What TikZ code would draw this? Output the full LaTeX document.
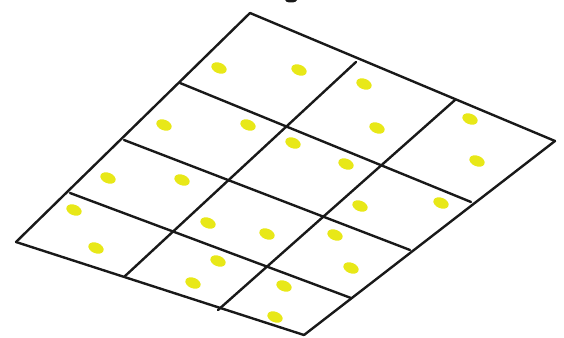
\documentclass[tikz,border=0pt]{standalone}
\usepackage{tikz}
\usetikzlibrary{shapes.geometric}
\definecolor{gridline}{RGB}{25,25,25}
\definecolor{dotyellow}{RGB}{232,232,24}

\begin{document}
\begin{tikzpicture}[x=1pt,y=-1pt,
    gridedge/.style={line width=2.4pt,draw=gridline,line cap=round,line join=round},
    spot/.style={ellipse,fill=dotyellow,draw=none,inner sep=0pt,
                 minimum width=16pt,minimum height=10.5pt,rotate=-22}]
    \useasboundingbox[fill=white](0,0)rectangle(564,337);
    % lattice corners, row by row
    \coordinate(p00)at(250,13);  \coordinate(p10)at(356,62);
    \coordinate(p20)at(455,100); \coordinate(p30)at(555,141);
    \coordinate(p01)at(180,83);  \coordinate(p31)at(471,202);
    \coordinate(p02)at(124,140); \coordinate(p32)at(410,250);
    \coordinate(p03)at(70,193);  \coordinate(p33)at(351,298);
    \coordinate(p04)at(16,242);  \coordinate(p14)at(124,277);
    \coordinate(p24)at(218,310); \coordinate(p34)at(304,335);
    % cut-off mark above the grid
    \fill[gridline](291,0)ellipse[x radius=6pt,y radius=2.5pt];
    % rows
    \foreach \j in {0,...,4}
        \draw[gridedge](p0\j)--(p3\j);
    % columns
    \foreach \i in {0,...,3}
        \draw[gridedge](p\i0)--(p\i4);
    % Row 1
    \node[spot](s11)at(219,68){};  \node[spot](s12)at(299,70){};
    \node[spot](s13)at(364,84){};  \node[spot](s14)at(377,128){};
    \node[spot](s15)at(470,119){}; \node[spot](s16)at(477,161){};
    % Row 2
    \node[spot](s21)at(164,125){}; \node[spot](s22)at(248,125){};
    \node[spot](s23)at(293,143){}; \node[spot](s24)at(346,164){};
    \node[spot](s25)at(360,206){}; \node[spot](s26)at(441,203){};
    % Row 3
    \node[spot](s31)at(108,178){}; \node[spot](s32)at(182,180){};
    \node[spot](s33)at(208,223){}; \node[spot](s34)at(267,234){};
    \node[spot](s35)at(335,235){}; \node[spot](s36)at(351,268){};
    % Row 4
    \node[spot](s41)at(74,210){};  \node[spot](s42)at(96,248){};
    \node[spot](s43)at(218,261){}; \node[spot](s44)at(193,283){};
    \node[spot](s45)at(284,286){}; \node[spot](s46)at(275,317){};
\end{tikzpicture}
\end{document}
